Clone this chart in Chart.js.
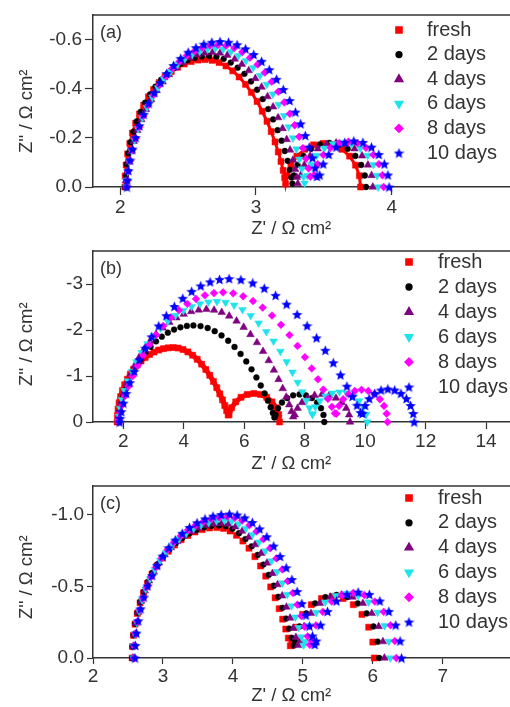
<!DOCTYPE html>
<html><head><meta charset="utf-8">
<script src="https://cdn.jsdelivr.net/npm/chart.js@4.4.0/dist/chart.umd.min.js"></script>
<style>
html,body{margin:0;padding:0;background:#fff;}
#wrap{position:relative;width:510px;height:707px;overflow:hidden;background:#fff;}
canvas{position:absolute;left:0;}
</style></head><body>
<div id="wrap">
<canvas id="ca" width="510" height="240" style="top:0px"></canvas>
<canvas id="cb" width="510" height="240" style="top:236px"></canvas>
<canvas id="cc" width="510" height="236" style="top:471px"></canvas>
</div>
<script>
const SERIES_LABELS = ['fresh','2 days','4 days','6 days','8 days','10 days'];

// ---------- Panel (a): [Z', Z''] ----------
const A_X_TICKS = [2,3,4];
const A_Y_TICKS = [-0.6,-0.4,-0.2,0];
const A_FRESH = [[2.035,0],[2.037,-.045],[2.044,-.090],[2.055,-.135],[2.071,-.178],[2.090,-.220],[2.114,-.260],[2.142,-.298],[2.173,-.334],[2.208,-.368],[2.246,-.398],[2.287,-.426],[2.330,-.450],[2.376,-.471],[2.423,-.489],[2.472,-.502],[2.523,-.512],[2.574,-.518],[2.625,-.520],[2.677,-.517],[2.728,-.508],[2.779,-.494],[2.829,-.474],[2.876,-.449],[2.923,-.419],[2.966,-.386],[3.008,-.349],[3.046,-.309],[3.081,-.268],[3.112,-.226],[3.140,-.184],[3.164,-.143],[3.184,-.104],[3.200,-.068],[3.211,-.038],[3.218,-.013],[3.229,-.046],[3.257,-.089],[3.301,-.126],[3.358,-.154],[3.424,-.172],[3.495,-.178],[3.566,-.172],[3.633,-.154],[3.689,-.126],[3.733,-.089],[3.761,-.046],[3.770,0]];
const A_2D = [[2.040,0],[2.042,-.047],[2.049,-.093],[2.061,-.138],[2.077,-.183],[2.098,-.226],[2.122,-.268],[2.151,-.307],[2.184,-.344],[2.220,-.378],[2.260,-.410],[2.302,-.438],[2.348,-.463],[2.395,-.485],[2.445,-.503],[2.496,-.517],[2.548,-.527],[2.601,-.533],[2.655,-.535],[2.709,-.532],[2.762,-.523],[2.814,-.508],[2.865,-.487],[2.915,-.462],[2.963,-.431],[3.008,-.397],[3.050,-.359],[3.090,-.318],[3.126,-.276],[3.159,-.232],[3.188,-.189],[3.212,-.147],[3.233,-.107],[3.249,-.070],[3.261,-.039],[3.268,-.014],[3.279,-.047],[3.306,-.090],[3.349,-.127],[3.405,-.156],[3.470,-.174],[3.540,-.180],[3.610,-.174],[3.675,-.156],[3.731,-.127],[3.774,-.090],[3.801,-.047],[3.810,0]];
const A_4D = [[2.040,0],[2.042,-.026],[2.050,-.062],[2.062,-.102],[2.079,-.144],[2.100,-.187],[2.126,-.231],[2.156,-.275],[2.190,-.317],[2.228,-.357],[2.269,-.394],[2.313,-.429],[2.360,-.459],[2.410,-.486],[2.461,-.509],[2.514,-.527],[2.569,-.540],[2.624,-.547],[2.680,-.550],[2.735,-.547],[2.789,-.538],[2.843,-.522],[2.896,-.501],[2.946,-.475],[2.995,-.443],[3.041,-.408],[3.085,-.369],[3.126,-.327],[3.163,-.283],[3.196,-.239],[3.226,-.194],[3.251,-.151],[3.272,-.110],[3.289,-.072],[3.300,-.040],[3.308,-.014],[3.329,-.047],[3.356,-.090],[3.399,-.127],[3.455,-.156],[3.520,-.174],[3.590,-.180],[3.660,-.174],[3.725,-.156],[3.781,-.127],[3.824,-.090],[3.851,-.047],[3.860,0]];
const A_6D = [[2.045,0],[2.048,-.027],[2.055,-.063],[2.067,-.104],[2.085,-.148],[2.106,-.192],[2.133,-.238],[2.163,-.282],[2.198,-.325],[2.237,-.366],[2.279,-.405],[2.324,-.440],[2.373,-.472],[2.423,-.500],[2.476,-.523],[2.531,-.541],[2.586,-.554],[2.643,-.562],[2.700,-.565],[2.758,-.562],[2.815,-.552],[2.871,-.536],[2.926,-.515],[2.979,-.487],[3.030,-.455],[3.079,-.419],[3.124,-.379],[3.167,-.336],[3.206,-.291],[3.241,-.245],[3.272,-.200],[3.298,-.155],[3.320,-.113],[3.338,-.074],[3.350,-.041],[3.358,-.015],[3.379,-.047],[3.406,-.091],[3.448,-.129],[3.503,-.158],[3.566,-.176],[3.635,-.182],[3.704,-.176],[3.768,-.158],[3.822,-.129],[3.865,-.091],[3.891,-.047],[3.900,0]];
const A_8D = [[2.050,0],[2.053,-.027],[2.060,-.065],[2.073,-.107],[2.090,-.152],[2.113,-.198],[2.140,-.244],[2.171,-.290],[2.207,-.334],[2.246,-.376],[2.289,-.416],[2.336,-.452],[2.385,-.485],[2.437,-.513],[2.491,-.537],[2.547,-.555],[2.604,-.569],[2.662,-.577],[2.720,-.580],[2.780,-.577],[2.840,-.567],[2.899,-.551],[2.956,-.528],[3.012,-.500],[3.065,-.467],[3.116,-.430],[3.164,-.389],[3.208,-.345],[3.249,-.299],[3.285,-.252],[3.318,-.205],[3.345,-.159],[3.368,-.116],[3.387,-.076],[3.400,-.042],[3.429,-.048],[3.455,-.093],[3.496,-.131],[3.550,-.160],[3.613,-.179],[3.680,-.185],[3.747,-.179],[3.810,-.160],[3.864,-.131],[3.905,-.093],[3.931,-.048],[3.940,0]];
const A_10D = [[2.050,0],[2.053,-.028],[2.060,-.067],[2.073,-.110],[2.091,-.155],[2.114,-.202],[2.142,-.250],[2.174,-.297],[2.210,-.342],[2.251,-.385],[2.295,-.426],[2.342,-.463],[2.393,-.496],[2.446,-.525],[2.501,-.550],[2.558,-.569],[2.616,-.583],[2.675,-.591],[2.735,-.594],[2.798,-.591],[2.861,-.581],[2.923,-.564],[2.983,-.541],[3.041,-.513],[3.098,-.479],[3.151,-.440],[3.201,-.398],[3.248,-.353],[3.290,-.306],[3.329,-.258],[3.363,-.210],[3.392,-.163],[3.416,-.119],[3.435,-.078],[3.449,-.043],[3.469,-.049],[3.495,-.094],[3.536,-.133],[3.590,-.163],[3.653,-.182],[3.720,-.188],[3.787,-.182],[3.850,-.163],[3.904,-.133],[3.945,-.094],[3.971,-.049],[3.980,0]];

// ---------- Panel (b) ----------
const B_X_TICKS = [2,4,6,8,10,12,14];
const B_Y_TICKS = [-3,-2,-1,0];
const B_FRESH = [[1.800,0],[1.807,-.141],[1.828,-.281],[1.863,-.419],[1.912,-.554],[1.973,-.685],[2.048,-.810],[2.135,-.929],[2.233,-1.041],[2.342,-1.146],[2.461,-1.241],[2.589,-1.327],[2.725,-1.403],[2.868,-1.468],[3.017,-1.522],[3.171,-1.565],[3.329,-1.595],[3.489,-1.614],[3.650,-1.620],[3.814,-1.609],[3.977,-1.577],[4.138,-1.525],[4.294,-1.453],[4.446,-1.364],[4.592,-1.259],[4.731,-1.143],[4.861,-1.016],[4.982,-.883],[5.093,-.747],[5.193,-.612],[5.282,-.482],[5.358,-.359],[5.420,-.248],[5.470,-.152],[5.499,-.160],[5.584,-.310],[5.719,-.438],[5.895,-.537],[6.100,-.599],[6.320,-.620],[6.540,-.599],[6.745,-.537],[6.921,-.438],[7.056,-.310],[7.141,-.160],[7.170,0]];
const B_2D = [[1.850,0],[1.859,-.100],[1.888,-.235],[1.934,-.388],[1.999,-.549],[2.081,-.715],[2.181,-.883],[2.297,-1.048],[2.428,-1.209],[2.574,-1.362],[2.732,-1.505],[2.903,-1.637],[3.085,-1.754],[3.276,-1.857],[3.475,-1.943],[3.681,-2.011],[3.891,-2.060],[4.105,-2.090],[4.320,-2.100],[4.557,-2.086],[4.792,-2.045],[5.024,-1.976],[5.250,-1.883],[5.470,-1.768],[5.680,-1.633],[5.880,-1.481],[6.068,-1.317],[6.243,-1.145],[6.404,-.969],[6.548,-.794],[6.676,-.624],[6.785,-.465],[6.876,-.321],[6.947,-.197],[6.999,-.098],[7.038,-.155],[7.120,-.300],[7.250,-.424],[7.420,-.520],[7.618,-.580],[7.830,-.600],[8.042,-.580],[8.240,-.520],[8.410,-.424],[8.540,-.300],[8.622,-.155],[8.650,0]];
const B_4D = [[1.850,0],[1.861,-.116],[1.894,-.275],[1.949,-.452],[2.025,-.641],[2.122,-.835],[2.239,-1.030],[2.374,-1.223],[2.529,-1.410],[2.699,-1.589],[2.886,-1.756],[3.087,-1.910],[3.300,-2.047],[3.524,-2.167],[3.758,-2.267],[4.000,-2.346],[4.247,-2.404],[4.497,-2.438],[4.750,-2.450],[5.004,-2.434],[5.256,-2.385],[5.504,-2.306],[5.747,-2.197],[5.982,-2.062],[6.207,-1.905],[6.422,-1.728],[6.623,-1.537],[6.811,-1.336],[6.982,-1.130],[7.137,-.926],[7.274,-.728],[7.391,-.543],[7.488,-.375],[7.565,-.230],[7.620,-.114],[7.672,-.155],[7.765,-.300],[7.912,-.424],[8.105,-.520],[8.329,-.580],[8.570,-.600],[8.811,-.580],[9.035,-.520],[9.228,-.424],[9.375,-.300],[9.468,-.155],[9.500,0]];
const B_6D = [[1.850,0],[1.862,-.124],[1.899,-.294],[1.961,-.484],[2.046,-.685],[2.155,-.893],[2.286,-1.101],[2.438,-1.308],[2.611,-1.508],[2.802,-1.699],[3.011,-1.877],[3.236,-2.042],[3.475,-2.189],[3.727,-2.317],[3.989,-2.424],[4.259,-2.509],[4.536,-2.570],[4.817,-2.607],[5.100,-2.620],[5.384,-2.600],[5.666,-2.541],[5.944,-2.444],[6.215,-2.313],[6.478,-2.152],[6.730,-1.965],[6.970,-1.758],[7.196,-1.537],[7.405,-1.310],[7.597,-1.083],[7.771,-.862],[7.923,-.655],[8.055,-.468],[8.163,-.307],[8.249,-.176],[8.261,-.168],[8.353,-.325],[8.500,-.460],[8.690,-.563],[8.912,-.628],[9.150,-.650],[9.388,-.628],[9.610,-.563],[9.800,-.460],[9.947,-.325],[10.039,-.168],[10.070,0]];
const B_8D = [[1.850,0],[1.863,-.073],[1.902,-.204],[1.968,-.371],[2.058,-.564],[2.173,-.775],[2.312,-.997],[2.474,-1.225],[2.657,-1.453],[2.860,-1.677],[3.082,-1.891],[3.321,-2.091],[3.575,-2.273],[3.842,-2.433],[4.120,-2.569],[4.407,-2.677],[4.701,-2.756],[4.999,-2.804],[5.300,-2.820],[5.634,-2.799],[5.965,-2.735],[6.291,-2.631],[6.610,-2.490],[6.919,-2.316],[7.215,-2.115],[7.497,-1.892],[7.762,-1.655],[8.008,-1.410],[8.234,-1.165],[8.438,-.928],[8.617,-.705],[8.771,-.504],[8.899,-.330],[8.999,-.189],[9.049,-.181],[9.135,-.350],[9.272,-.495],[9.450,-.606],[9.657,-.676],[9.880,-.700],[10.103,-.676],[10.310,-.606],[10.488,-.495],[10.625,-.350],[10.711,-.181],[10.740,0]];
const B_10D = [[1.880,0],[1.894,-.080],[1.935,-.226],[2.003,-.411],[2.098,-.624],[2.219,-.857],[2.365,-1.103],[2.535,-1.355],[2.727,-1.608],[2.940,-1.855],[3.173,-2.092],[3.424,-2.313],[3.690,-2.514],[3.970,-2.692],[4.262,-2.842],[4.563,-2.962],[4.872,-3.049],[5.184,-3.102],[5.500,-3.120],[5.892,-3.096],[6.281,-3.026],[6.665,-2.911],[7.039,-2.755],[7.402,-2.563],[7.750,-2.340],[8.081,-2.094],[8.393,-1.831],[8.682,-1.560],[8.947,-1.289],[9.186,-1.026],[9.397,-.780],[9.578,-.557],[9.729,-.365],[9.847,-.209],[9.910,-.186],[9.997,-.360],[10.135,-.509],[10.315,-.624],[10.525,-.695],[10.750,-.720],[10.975,-.695],[11.185,-.624],[11.365,-.509],[11.503,-.360],[11.590,-.186],[11.620,0]];

// ---------- Panel (c) ----------
const C_X_TICKS = [2,3,4,5,6,7];
const C_Y_TICKS = [-1.0,-0.5,0];
const C_FRESH = [[2.560,0],[2.565,-.079],[2.578,-.158],[2.601,-.236],[2.633,-.311],[2.673,-.385],[2.722,-.455],[2.779,-.522],[2.843,-.585],[2.914,-.643],[2.992,-.697],[3.076,-.745],[3.165,-.788],[3.259,-.825],[3.356,-.855],[3.457,-.879],[3.560,-.896],[3.665,-.907],[3.770,-.910],[3.865,-.904],[3.959,-.886],[4.051,-.856],[4.142,-.816],[4.229,-.766],[4.314,-.707],[4.394,-.642],[4.469,-.571],[4.539,-.496],[4.603,-.420],[4.661,-.344],[4.711,-.271],[4.755,-.202],[4.792,-.139],[4.820,-.085],[4.841,-.111],[4.900,-.215],[4.996,-.304],[5.120,-.372],[5.265,-.415],[5.420,-.430],[5.575,-.415],[5.720,-.372],[5.844,-.304],[5.940,-.215],[5.999,-.111],[6.020,0]];
const C_2D = [[2.560,0],[2.565,-.081],[2.579,-.161],[2.602,-.239],[2.635,-.316],[2.676,-.391],[2.726,-.463],[2.784,-.531],[2.850,-.595],[2.923,-.654],[3.003,-.709],[3.089,-.758],[3.180,-.801],[3.276,-.838],[3.376,-.869],[3.479,-.893],[3.585,-.911],[3.692,-.921],[3.800,-.925],[3.897,-.919],[3.992,-.901],[4.087,-.871],[4.179,-.830],[4.268,-.779],[4.354,-.719],[4.436,-.652],[4.512,-.580],[4.584,-.504],[4.649,-.427],[4.708,-.350],[4.760,-.275],[4.804,-.205],[4.841,-.141],[4.870,-.087],[4.891,-.114],[4.952,-.220],[5.049,-.311],[5.175,-.381],[5.322,-.425],[5.480,-.440],[5.638,-.425],[5.785,-.381],[5.911,-.311],[6.008,-.220],[6.069,-.114],[6.090,0]];
const C_4D = [[2.570,0],[2.575,-.082],[2.589,-.163],[2.613,-.243],[2.647,-.321],[2.689,-.397],[2.740,-.470],[2.800,-.539],[2.867,-.604],[2.942,-.665],[3.024,-.720],[3.112,-.770],[3.205,-.814],[3.303,-.852],[3.406,-.883],[3.511,-.908],[3.620,-.926],[3.729,-.936],[3.840,-.940],[3.938,-.934],[4.036,-.915],[4.132,-.885],[4.226,-.843],[4.317,-.791],[4.404,-.731],[4.487,-.663],[4.565,-.590],[4.638,-.512],[4.704,-.434],[4.764,-.355],[4.817,-.279],[4.862,-.208],[4.900,-.144],[4.930,-.088],[4.956,-.114],[5.017,-.220],[5.115,-.311],[5.243,-.381],[5.391,-.425],[5.550,-.440],[5.709,-.425],[5.858,-.381],[5.985,-.311],[6.083,-.220],[6.144,-.114],[6.165,0]];
const C_6D = [[2.580,0],[2.585,-.084],[2.600,-.167],[2.624,-.248],[2.658,-.328],[2.702,-.406],[2.754,-.480],[2.815,-.551],[2.884,-.617],[2.961,-.679],[3.044,-.735],[3.134,-.786],[3.230,-.831],[3.331,-.870],[3.435,-.902],[3.544,-.927],[3.654,-.945],[3.767,-.956],[3.880,-.960],[3.982,-.954],[4.083,-.935],[4.183,-.903],[4.280,-.861],[4.374,-.808],[4.465,-.746],[4.551,-.677],[4.632,-.602],[4.707,-.523],[4.776,-.443],[4.839,-.363],[4.893,-.285],[4.940,-.213],[4.979,-.147],[5.010,-.090],[5.031,-.116],[5.093,-.225],[5.192,-.318],[5.320,-.390],[5.470,-.435],[5.630,-.450],[5.790,-.435],[5.940,-.390],[6.068,-.318],[6.167,-.225],[6.229,-.116],[6.250,0]];
const C_8D = [[2.590,0],[2.595,-.086],[2.610,-.171],[2.635,-.255],[2.670,-.337],[2.715,-.416],[2.768,-.493],[2.830,-.565],[2.901,-.633],[2.980,-.696],[3.065,-.755],[3.157,-.807],[3.255,-.853],[3.358,-.893],[3.465,-.926],[3.576,-.951],[3.689,-.970],[3.804,-.981],[3.920,-.985],[4.027,-.978],[4.132,-.959],[4.236,-.927],[4.338,-.883],[4.436,-.829],[4.531,-.766],[4.621,-.695],[4.706,-.618],[4.784,-.537],[4.856,-.454],[4.921,-.372],[4.978,-.293],[5.028,-.218],[5.068,-.151],[5.100,-.092],[5.126,-.118],[5.187,-.228],[5.285,-.322],[5.413,-.394],[5.561,-.439],[5.720,-.455],[5.879,-.439],[6.028,-.394],[6.155,-.322],[6.253,-.228],[6.314,-.118],[6.335,0]];
const C_10D = [[2.600,0],[2.605,-.088],[2.621,-.174],[2.646,-.260],[2.681,-.344],[2.727,-.425],[2.781,-.503],[2.844,-.576],[2.916,-.646],[2.995,-.711],[3.082,-.770],[3.176,-.823],[3.275,-.870],[3.380,-.911],[3.488,-.944],[3.601,-.971],[3.716,-.990],[3.832,-1.001],[3.950,-1.005],[4.060,-.998],[4.169,-.978],[4.277,-.946],[4.382,-.901],[4.484,-.846],[4.582,-.781],[4.674,-.709],[4.762,-.630],[4.843,-.548],[4.918,-.464],[4.985,-.380],[5.044,-.299],[5.095,-.223],[5.137,-.154],[5.170,-.094],[5.191,-.119],[5.253,-.230],[5.352,-.325],[5.480,-.398],[5.630,-.444],[5.790,-.460],[5.950,-.444],[6.100,-.398],[6.228,-.325],[6.327,-.230],[6.389,-.119],[6.410,0]];

// ---------- styling ----------
const FONT = '"Liberation Sans", Arial, Helvetica, sans-serif';
const INK = '#333333';
Chart.defaults.font.family = FONT;
Chart.defaults.font.size = 18;
Chart.defaults.color = INK;

function makeStar(color, size) {
  const c = document.createElement('canvas');
  c.width = size; c.height = size;
  const g = c.getContext('2d');
  g.fillStyle = color;
  g.beginPath();
  const cx = size / 2, cy = size / 2 + 0.6, R = size / 2, r = R * 0.45;
  for (let i = 0; i < 10; i++) {
    const ang = -Math.PI / 2 + i * Math.PI / 5;
    const rad = (i % 2) ? r : R;
    g.lineTo(cx + rad * Math.cos(ang), cy + rad * Math.sin(ang));
  }
  g.closePath(); g.fill();
  return c;
}
const STAR = makeStar('#0000ff', 11);

const STYLES = [
  {pointStyle: 'rect', radius: 4.3, rotation: 0, color: '#ff0000'},
  {pointStyle: 'circle', radius: 2.9, rotation: 0, color: '#000000'},
  {pointStyle: 'triangle', radius: 4.4, rotation: 0, color: '#800080'},
  {pointStyle: 'triangle', radius: 4.4, rotation: 180, color: '#1ee3ea'},
  {pointStyle: 'rectRot', radius: 3.9, rotation: 0, color: '#ff00ff'},
  {pointStyle: STAR, radius: 5.5, rotation: 0, color: '#0000ff'}
];

function drawMarker(ctx, st, x, y) {
  if (Chart.helpers && Chart.helpers.drawPoint) {
    ctx.fillStyle = st.color; ctx.strokeStyle = st.color;
    Chart.helpers.drawPoint(ctx, {pointStyle: st.pointStyle, rotation: st.rotation, radius: st.radius, borderWidth: 0.5}, x, y);
  }
}

const panelDeco = {
  id: 'panelDeco',
  afterDraw(chart, args, o) {
    const ctx = chart.ctx, a = chart.chartArea;
    ctx.save();
    ctx.strokeStyle = INK; ctx.lineWidth = 1.5;
    ctx.beginPath(); ctx.moveTo(a.left - 0.75, a.top); ctx.lineTo(chart.width, a.top); ctx.stroke();
    ctx.fillStyle = INK;
    ctx.font = '18px ' + FONT;
    ctx.textAlign = 'left'; ctx.textBaseline = 'middle';
    ctx.fillText(o.tag, a.left + 7, a.top + 18);
    ctx.font = '20px ' + FONT;
    SERIES_LABELS.forEach((lab, i) => {
      const y = a.top + o.legTop + i * o.legStep;
      drawMarker(ctx, STYLES[i], a.left + o.legMark, y);
      ctx.fillStyle = INK;
      ctx.textAlign = 'left'; ctx.textBaseline = 'middle';
      ctx.fillText(lab, a.left + o.legText, y);
    });
    ctx.restore();
  }
};

function buildChart(id, series, cfg) {
  const datasets = series.map((arr, i) => {
    const st = STYLES[i];
    const ds = {
      label: SERIES_LABELS[i],
      data: arr.map(p => ({x: p[0], y: p[1]})),
      pointStyle: st.pointStyle,
      pointRotation: st.rotation,
      pointRadius: st.radius,
      pointBackgroundColor: st.color,
      pointBorderColor: st.color,
      pointBorderWidth: 0.5,
      backgroundColor: st.color,
      borderColor: st.color,
      showLine: false,
      clip: false,
      order: 5 - i
    };
    if (i === 0 && cfg.freshLine) { ds.showLine = true; ds.borderWidth = cfg.freshLine; }
    return ds;
  });
  const fmtY = v => (v === 0 ? (cfg.yDec ? '0.0' : '0') : v.toFixed(cfg.yDec));
  return new Chart(document.getElementById(id), {
    type: 'scatter',
    data: {datasets},
    options: {
      responsive: false, animation: false, devicePixelRatio: 1,
      layout: {padding: {top: 15, left: 0, right: 0, bottom: 0}, autoPadding: false},
      plugins: {legend: {display: false}, tooltip: {enabled: false}, panelDeco: cfg.deco},
      scales: {
        x: {
          type: 'linear', position: 'bottom', min: cfg.xMin, max: cfg.xMax,
          afterBuildTicks: s => { s.ticks = cfg.xTicks.map(v => ({value: v})); },
          afterFit: s => { s.height = cfg.xAxisH; },
          ticks: {color: INK, padding: cfg.xPad, maxRotation: 0, autoSkip: false, font: {size: 19}, callback: v => String(v)},
          grid: {display: true, drawOnChartArea: false, drawTicks: true, tickLength: cfg.tickLen, color: INK, tickWidth: 1.2},
          border: {display: true, color: INK, width: 1.5},
          title: {display: true, text: "Z' / \u03A9 cm\u00B2    ", color: INK, font: {size: 18.5}, padding: {top: 0, bottom: cfg.xTitlePad}}
        },
        y: {
          type: 'linear', reverse: true, min: cfg.yMin, max: cfg.yMax,
          afterBuildTicks: s => { s.ticks = cfg.yTicks.map(v => ({value: v})); },
          afterFit: s => { s.width = 93; },
          ticks: {color: INK, padding: 3, font: {size: 19}, callback: fmtY},
          grid: {display: true, drawOnChartArea: false, drawTicks: true, tickLength: cfg.tickLen, color: INK, tickWidth: 1.2},
          border: {display: true, color: INK, width: 1.5},
          title: {display: true, text: "Z'' / \u03A9 cm\u00B2" + cfg.ySpaces, color: INK, font: {size: 18.5}, padding: {top: 16, bottom: 0}}
        }
      }
    },
    plugins: [panelDeco]
  });
}

buildChart('ca', [A_FRESH, A_2D, A_4D, A_6D, A_8D, A_10D], {
  xMin: 1.8, xMax: 4.87, yMin: -0.702, yMax: 0, xTicks: A_X_TICKS, yTicks: A_Y_TICKS, yDec: 1,
  xAxisH: 53, tickLen: 8, xPad: 1, xTitlePad: 0, ySpaces: '    ', freshLine: 3,
  deco: {tag: '(a)', legMark: 306, legText: 334, legTop: 15, legStep: 24.6}
});
buildChart('cb', [B_FRESH, B_2D, B_4D, B_6D, B_8D, B_10D], {
  xMin: 1.0, xMax: 14.79, yMin: -3.72, yMax: 0, xTicks: B_X_TICKS, yTicks: B_Y_TICKS, yDec: 0,
  xAxisH: 54, tickLen: 7, xPad: 1, xTitlePad: 1, ySpaces: '   ', freshLine: 5,
  deco: {tag: '(b)', legMark: 316, legText: 345, legTop: 11, legStep: 25}
});
buildChart('cc', [C_FRESH, C_2D, C_4D, C_6D, C_8D, C_10D], {
  xMin: 2.0, xMax: 7.96, yMin: -1.2, yMax: 0, xTicks: C_X_TICKS, yTicks: C_Y_TICKS, yDec: 1,
  xAxisH: 49, tickLen: 6, xPad: 1, xTitlePad: 0, ySpaces: '  ', freshLine: 0,
  deco: {tag: '(c)', legMark: 316, legText: 345, legTop: 12, legStep: 24.8}
});
</script>
</body></html>
